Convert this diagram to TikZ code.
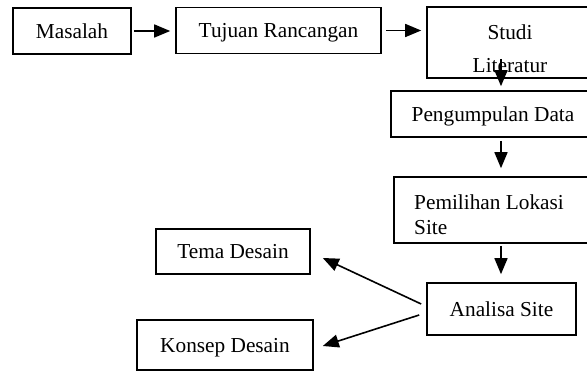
\documentclass[tikz,border=0pt]{standalone}
\usepackage{fontspec}
\setmainfont{Liberation Serif}
\usetikzlibrary{arrows.meta,calc}
\begin{document}
\begin{tikzpicture}[x=1pt,y=-1pt,
  box/.style={draw,line width=1.6pt,inner sep=0pt,minimum width=#1},
  lbl/.style={inner sep=0pt,font=\fontsize{21.3}{25}\selectfont},
  one/.style={lbl,text height=14.5pt,text depth=0pt},
  arr/.style={line width=1.6pt,-{Triangle[length=16pt,width=13pt]}}]
\useasboundingbox (0,0) rectangle (587,374);
% boxes (positions in px of the reference)
\node[box=118pt,minimum height=46pt,one] (mas) at (72,31) {Masalah};
\node[box=205pt,minimum height=46pt,one] (tuj) at (278.5,30.5) {Tujuan Rancangan};
\node[box=166pt,minimum height=71pt] (stu) at (510,42.5) {};
\node[lbl,align=center,font=\fontsize{21.3}{33}\selectfont] (stut) at (510,49) {Studi\\Literatur};
\node[box=204pt,minimum height=46pt] (pen) at (493,114) {};
\node[one] (pent) at (493,114) {Pengumpulan Data};
\node[box=196pt,minimum height=66pt] (pem) at (492,210) {};
\node[lbl,align=left,anchor=west,font=\fontsize{21.3}{25}\selectfont] (pemt) at (414,215) {Pemilihan Lokasi\\Site};
\node[box=149pt,minimum height=52pt,one] (ana) at (501.5,309) {Analisa Site};
\node[box=154pt,minimum height=45pt,one] (tem) at (233,251.5) {Tema Desain};
\node[box=176pt,minimum height=50pt,one] (kon) at (225,345) {Konsep Desain};
\coordinate (ax) at (501,0);
% connectors
\draw[arr,shorten <=2pt,shorten >=5pt] (mas.east) -- (mas.east -| tuj.west);
\draw[arr,shorten <=4pt,shorten >=5pt] (tuj.east) -- (tuj.east -| stu.west);
\draw[arr,shorten >=4pt] ([yshift=20pt]stu.south -| ax) -- (pen.north -| ax);
\draw[arr,shorten <=3pt,shorten >=8pt] (pen.south -| ax) -- (pem.north -| ax);
\draw[arr,shorten <=2pt,shorten >=8pt] (pem.south -| ax) -- (ana.north -| ax);
\draw[arr] ($(ana.west)+(-5,-5)$) -- ($(tem.east)+(12,6.5)$);
\draw[arr] ($(ana.west)+(-7,6)$) -- ($(kon.east)+(9,1)$);
\end{tikzpicture}
\end{document}
